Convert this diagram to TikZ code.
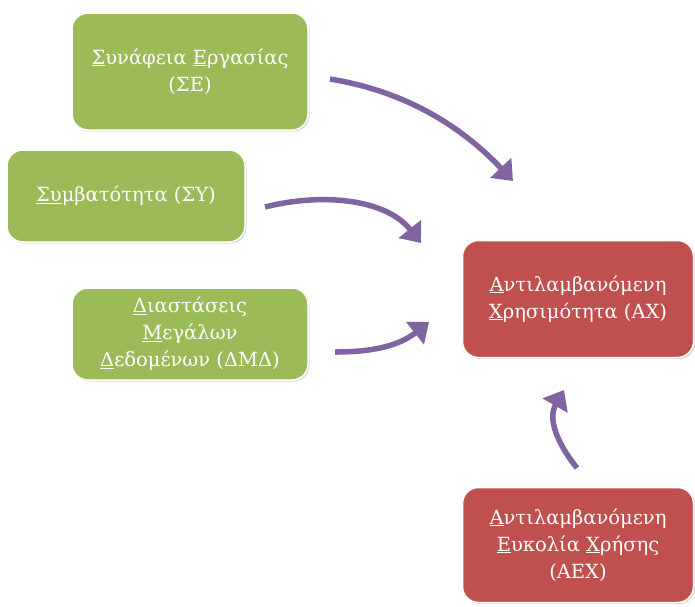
\documentclass[tikz,border=0pt]{standalone}
\usepackage{fontspec}
\setmainfont{DejaVu Serif}
\usetikzlibrary{arrows.meta,shadows}
\definecolor{boxgreen}{HTML}{9BBB59}
\definecolor{boxred}{HTML}{C0504D}
\definecolor{arrowpurple}{HTML}{8064A2}
\tikzset{
  card/.style={rounded corners=16pt, draw=white, line width=1.5pt,
    text=white, align=center, inner sep=4pt,
    font=\fontsize{19.5pt}{27pt}\selectfont,
    drop shadow={opacity=0.3, shadow xshift=1.5pt, shadow yshift=-1.5pt}},
  greencard/.style={card, fill=boxgreen},
  redcard/.style={card, fill=boxred},
  flowhalo/.style={draw=white, line width=9pt, line cap=butt, shorten >=-2.5pt,
    -{Triangle[width=36pt,length=23pt]}},
  flow/.style={draw=arrowpurple, line width=5.5pt, line cap=butt,
    -{Triangle[width=28pt,length=18pt]}},
}
\begin{document}
\begin{tikzpicture}[x=1pt,y=-1pt]
\useasboundingbox (0,0) rectangle (695,606);

\node[greencard, minimum width=236pt, minimum height=117pt] (se) at (190,71.5)
  {\underline{Σ}υνάφεια \underline{Ε}ργασίας\\(ΣΕ)};
\node[greencard, minimum width=238pt, minimum height=92pt] (sy) at (126,196)
  {\underline{Συ}μβατότητα (ΣΥ)};
\node[greencard, minimum width=236pt, minimum height=92pt] (dmd) at (190,334)
  {\underline{Δ}ιαστάσεις\\\underline{Μ}εγάλων\\\underline{Δ}εδομένων (ΔΜΔ)};
\node[redcard, minimum width=231pt, minimum height=117pt] (ax) at (578,299)
  {\underline{Α}ντιλαμβανόμενη\\\underline{Χ}ρησιμότητα (ΑΧ)};
\node[redcard, minimum width=231pt, minimum height=115pt] (aex) at (578,545)
  {\underline{Α}ντιλαμβανόμενη\\\underline{Ε}υκολία \underline{Χ}ρήσης\\(ΑΕΧ)};

% curved connectors towards the outcome box
\coordinate (t1) at (330,79);  \coordinate (h1) at (513,181);
\coordinate (t2) at (265,207); \coordinate (h2) at (421,243);
\coordinate (t3) at (335,352); \coordinate (h3) at (429,322);
\coordinate (t4) at (577,468); \coordinate (h4) at (564,390);

\foreach \s in {flowhalo,flow}{
  \draw[\s] (t1) .. controls (410,92) and (465,130) .. (h1);
  \draw[\s] (t2) .. controls (320,193) and (385,198) .. (h2);
  \draw[\s] (t3) .. controls (375,352) and (400,345) .. (h3);
  \draw[\s] (t4) .. controls (556,442) and (548,418) .. (h4);
}
\end{tikzpicture}
\end{document}
